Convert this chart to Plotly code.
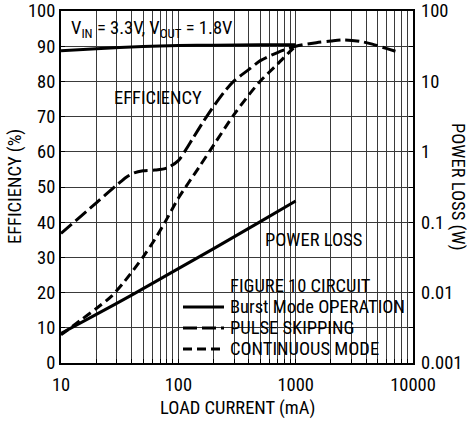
import plotly.graph_objects as go

# ---------------- data ----------------
# Efficiency, Burst Mode operation
burst_load_ma = [10, 20, 50, 100, 200, 500, 1000]
burst_eff_pct = [88.7, 89.3, 89.9, 90.2, 90.3, 90.4, 90.4]

# Efficiency, pulse skipping
pulse_load_ma = [10, 20, 30, 36, 42, 50, 63, 80, 100, 115, 134, 160, 193, 250, 300,
                 400, 500, 700, 1000, 1500, 2000, 2600, 3500, 4500, 6000, 7700]
pulse_eff_pct = [36.8, 45.5, 50.6, 52.8, 54.0, 54.6, 54.8, 55.4, 57.5, 60.4, 64.0, 68.1, 72.2, 77.3, 80.2,
                 83.4, 85.9, 88.2, 90.0, 91.0, 91.5, 91.8, 91.4, 90.6, 89.3, 88.2]

# Efficiency, continuous mode
cont_load_ma = [10, 14.5, 20, 27, 35, 50, 63, 77, 100, 150, 200, 300, 400, 500, 700, 900, 1000]
cont_eff_pct = [8.0, 12.0, 15.5, 19.0, 23.3, 30.1, 35.1, 40.0, 46.8, 55.6, 61.9, 70.7, 76.2, 80.1, 84.9, 88.6, 90.0]

# Power loss, Burst Mode operation (W)
loss_load_ma = [10, 20, 40, 100, 200, 500, 1000]
loss_w = [0.00263, 0.0049, 0.0092, 0.0219, 0.0422, 0.102, 0.200]

# axis ticks
x_major = [10, 100, 1000, 10000]
x_major_text = ["10", "100", "1000", "10000"]
eff_ticks = list(range(0, 101, 10))
loss_ticks = [0.001, 0.01, 0.1, 1, 10, 100]
loss_tick_text = ["0.001", "0.01", "0.1", "1", "10", "100"]

# ---------------- layout helpers ----------------
W, H = 467, 425
L, R, T, B = 61, 413, 11, 363
PW, PH = R - L, B - T
FONT = "Liberation Sans Narrow, Arial Narrow, Roboto Condensed, DejaVu Sans Condensed, Liberation Sans, sans-serif"
FS = 18.5
GRID = "#3a3a3a"


def px(xp):
    return (xp - L) / PW


def py(yp):
    return (B - yp) / PH


x_grid = [d * k for d in (10, 100, 1000) for k in range(1, 10)] + [10000]
x_grid_text = [x_major_text[x_major.index(v)] if v in x_major else "" for v in x_grid]

fig = go.Figure()

fig.add_trace(go.Scatter(x=burst_load_ma, y=burst_eff_pct, mode="lines",
                         line=dict(color="black", width=3, shape="spline", smoothing=0.8),
                         name="Burst Mode OPERATION"))
fig.add_trace(go.Scatter(x=pulse_load_ma, y=pulse_eff_pct, mode="lines",
                         line=dict(color="black", width=3, dash="14px,5px", shape="spline", smoothing=0.8),
                         name="PULSE SKIPPING"))
fig.add_trace(go.Scatter(x=cont_load_ma, y=cont_eff_pct, mode="lines",
                         line=dict(color="black", width=3, dash="9px,5px", shape="spline", smoothing=0.8),
                         name="CONTINUOUS MODE"))
fig.add_trace(go.Scatter(x=loss_load_ma, y=loss_w, mode="lines", yaxis="y2",
                         line=dict(color="black", width=3, shape="spline", smoothing=0.8),
                         name="POWER LOSS"))

fig.update_layout(
    width=W, height=H,
    margin=dict(l=L, r=W - R, t=T, b=H - B, pad=0, autoexpand=False),
    paper_bgcolor="white", plot_bgcolor="white",
    showlegend=False,
    font=dict(family=FONT, size=FS, color="black"),
    xaxis=dict(type="log", range=[1, 4], tickvals=x_grid, ticktext=x_grid_text,
               tickangle=0,
               showgrid=True, gridcolor=GRID, gridwidth=1, automargin=False,
               showline=True, linecolor="black", linewidth=2, mirror=True,
               ticks="inside", ticklen=4, tickcolor="black", tickwidth=1,
               ticklabelstandoff=4,
               tickfont=dict(family=FONT, size=FS), zeroline=False),
    yaxis=dict(range=[0, 100], tickvals=eff_ticks, automargin=False,
               showgrid=True, gridcolor=GRID, gridwidth=1,
               showline=True, linecolor="black", linewidth=2, mirror="ticks",
               ticks="inside", ticklen=4, tickcolor="black", tickwidth=1,
               tickfont=dict(family=FONT, size=FS), zeroline=False),
    yaxis2=dict(type="log", range=[-3, 2], overlaying="y", side="right", anchor="x",
                tickvals=loss_ticks, ticktext=loss_tick_text, showgrid=False,
                ticks="", showline=False, zeroline=False, automargin=False,
                ticklabelstandoff=7,
                tickfont=dict(family=FONT, size=FS)),
)

# white boxes behind labels (cover gridlines, stay under curves)
boxes = [
    (61, 265, 11, 44),    # VIN/VOUT
    (108, 206, 85, 111),  # EFFICIENCY
    (253, 377, 224, 254), # POWER LOSS
    (175, 413, 272, 363), # legend
]
for x0, x1, y0, y1 in boxes:
    fig.add_shape(type="rect", xref="paper", yref="paper",
                  x0=px(x0), x1=px(x1), y0=py(y1), y1=py(y0),
                  fillcolor="white", line=dict(width=0), layer="between")


def label(text, xp, yp, xanchor="center", angle=0):
    fig.add_annotation(text=text, xref="paper", yref="paper", x=px(xp), y=py(yp),
                       xanchor=xanchor, yanchor="middle", showarrow=False,
                       textangle=angle, font=dict(family=FONT, size=FS, color="black"))


label("V<sub>IN</sub> = 3.3V, V<sub>OUT</sub> = 1.8V", 69, 29, xanchor="left")
label("EFFICIENCY", 158, 98)
label("POWER LOSS", 313, 240)
label("FIGURE 10 CIRCUIT", 228, 286, xanchor="left")
label("Burst Mode OPERATION", 228, 307, xanchor="left")
label("PULSE SKIPPING", 228, 328, xanchor="left")
label("CONTINUOUS MODE", 228, 349, xanchor="left")
label("LOAD CURRENT (mA)", 237, 408)
label("EFFICIENCY (%)", 15, 187, angle=-90)
label("POWER LOSS (W)", 458, 187, angle=90)

# legend sample lines
for yrow, dash in [(307, "solid"), (328, "14px,5px"), (349, "9px,5px")]:
    fig.add_shape(type="line", xref="paper", yref="paper",
                  x0=px(183), x1=px(224), y0=py(yrow), y1=py(yrow),
                  line=dict(color="black", width=3, dash=dash), layer="above")

fig.write_html("out.html", config={"displayModeBar": False},
               post_script="document.body.style.margin='0';")
